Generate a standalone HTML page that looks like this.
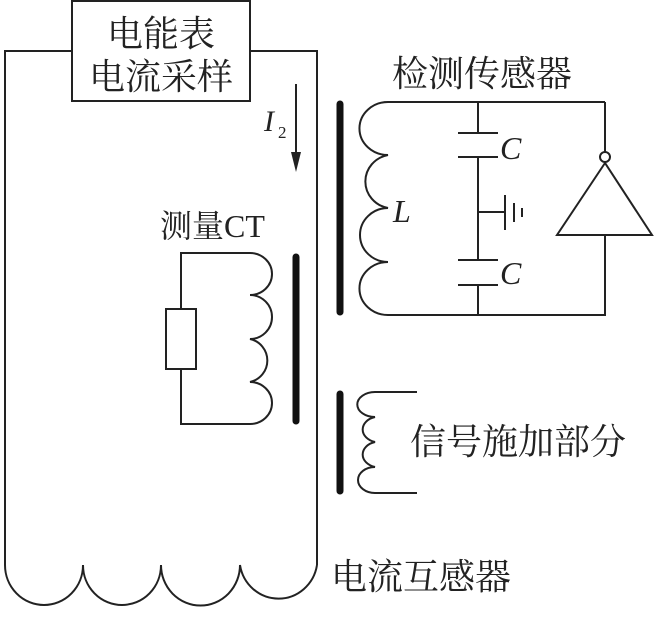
<!DOCTYPE html>
<html><head><meta charset="utf-8"><style>
body{margin:0;background:#fff}
svg text{font-family:"Liberation Serif","Noto Serif CJK SC","Noto Sans CJK SC",serif;fill:#222}
</style></head><body>
<svg width="654" height="613" viewBox="0 0 654 613" xmlns="http://www.w3.org/2000/svg">
<g fill="none" stroke="#222" stroke-width="2">
<path d="M72 51 H5 V565"/>
<path d="M250 51 H317 V565"/>
<path d="M5 565 A39 40 0 0 0 83 565 A39 40 0 0 0 161 565 A39 40 0 0 0 240 565 A39 40 0 0 0 317 565"/>
<rect x="72" y="1" width="178" height="100"/>
<path d="M296 84 V155"/>
<path d="M181 309 V253 H250 A22 21 0 0 1 250 295 A22 22 0 0 1 250 339 A22 22 0 0 1 250 382 A22 21 0 0 1 250 424 H181 V369"/>
<rect x="166" y="309" width="30" height="60"/>
<path d="M605 102 H388 A28 26 0 0 0 388 155 A28 27 0 0 0 388 208 A28 27 0 0 0 388 262 A28 26 0 0 0 388 315 H605 V235"/>
<path d="M605 102 V152"/>
<path d="M478 102 V133 M458 133 H498 M458 157 H498 M478 157 V260 M458 260 H498 M458 285 H498 M478 285 V315"/>
<path d="M478 212 H505 M505 195 V230 M514 203 V222 M522 208 V217"/>
<circle cx="605" cy="157" r="5"/>
<path d="M605 163 L557 235 H652 Z"/>
<path d="M417 392 H375 A17 12 0 0 0 375 417 A17 13 0 0 0 375 442 A17 13 0 0 0 375 467 A17 13 0 0 0 375 493 H417"/>
</g>
<path d="M291 152 L296 172 L301 152 Z" fill="#222"/>
<g stroke="#111" stroke-width="7" stroke-linecap="round">
<path d="M296 257 V421"/>
<path d="M340 104 V312"/>
<path d="M340 394 V491"/>
</g>
<text x="161" y="46" font-size="36" text-anchor="middle">电能表</text>
<text x="161" y="89" font-size="36" text-anchor="middle">电流采样</text>
<text x="264" y="131" font-size="30" font-style="italic">I</text>
<text x="278" y="138" font-size="17">2</text>
<text x="160" y="237" font-size="32">测量CT</text>
<text x="392" y="86" font-size="36">检测传感器</text>
<text x="500" y="159" font-size="32" font-style="italic">C</text>
<text x="500" y="284" font-size="32" font-style="italic">C</text>
<text x="393" y="222" font-size="32" font-style="italic">L</text>
<text x="410" y="454" font-size="36">信号施加部分</text>
<text x="331" y="589" font-size="36">电流互感器</text>
</svg>
</body></html>
